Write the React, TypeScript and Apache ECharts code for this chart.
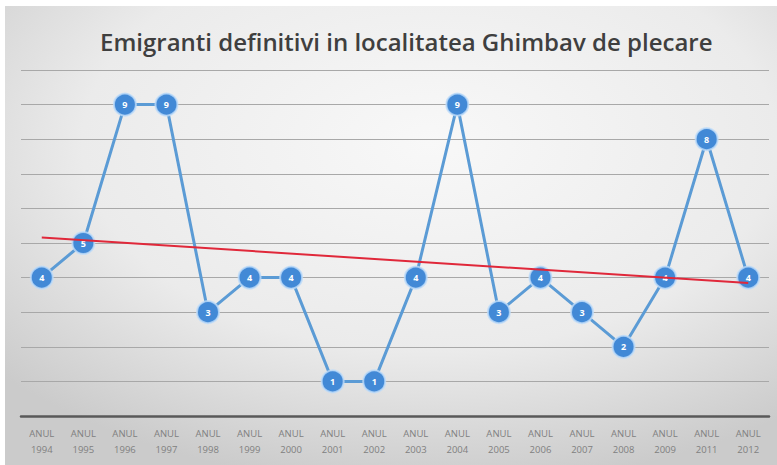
import React, { useEffect, useRef } from "react";
import * as echarts from "echarts";

const categories = [
  "ANUL\n1994", "ANUL\n1995", "ANUL\n1996", "ANUL\n1997", "ANUL\n1998", "ANUL\n1999",
  "ANUL\n2000", "ANUL\n2001", "ANUL\n2002", "ANUL\n2003", "ANUL\n2004", "ANUL\n2005",
  "ANUL\n2006", "ANUL\n2007", "ANUL\n2008", "ANUL\n2009", "ANUL\n2011", "ANUL\n2012",
];
const emigrants = [4, 5, 9, 9, 3, 4, 4, 1, 1, 4, 9, 3, 4, 3, 2, 4, 8, 4];
const titleText = "Emigranti definitivi in localitatea Ghimbav de plecare";

function linearTrend(values: number[]): (number | null)[] {
  const n = values.length;
  const mx = (n - 1) / 2;
  const my = values.reduce((a, b) => a + b, 0) / n;
  let sxy = 0;
  let sxx = 0;
  values.forEach((v, i) => {
    sxy += (i - mx) * (v - my);
    sxx += (i - mx) * (i - mx);
  });
  const slope = sxy / sxx;
  const b = my - slope * mx;
  return values.map((_, i) => (i === 0 || i === n - 1 ? b + slope * i : null));
}

export default function App() {
  const ref = useRef<HTMLDivElement>(null);
  useEffect(() => {
    document.body.style.margin = "0";
    const chart = echarts.init(ref.current!, undefined, { renderer: "svg" });
    chart.setOption({
      animation: false,
      backgroundColor: "#ffffff",
      graphic: [
        {
          type: "rect",
          z: -10,
          silent: true,
          shape: { x: 5, y: 6, width: 772, height: 459 },
          style: {
            fill: {
              type: "radial",
              x: 0.55,
              y: 0.3,
              r: 0.75,
              colorStops: [
                { offset: 0, color: "#f8f8f8" },
                { offset: 0.6, color: "#ebebeb" },
                { offset: 1, color: "#cbcbcb" },
              ],
            },
          },
        },
      ],
      title: {
        text: titleText,
        left: 95,
        top: 24,
        textStyle: {
          fontFamily: "Open Sans",
          fontSize: 24,
          fontWeight: 600,
          color: "#3f3f3f",
        },
      },
      grid: { left: 21, right: 8, top: 70, bottom: 49 },
      xAxis: {
        type: "category",
        data: categories,
        boundaryGap: true,
        axisLine: { lineStyle: { color: "#595959", width: 2.5 } },
        axisTick: { show: false },
        axisLabel: {
          color: "#808080",
          fontSize: 9.5,
          lineHeight: 16,
          margin: 9,
          interval: 0,
          fontFamily: "Open Sans",
        },
      },
      yAxis: {
        type: "value",
        min: 0,
        max: 10,
        interval: 1,
        axisLabel: { show: false },
        axisLine: { show: false },
        axisTick: { show: false },
        splitLine: { lineStyle: { color: "#a8a8a8", width: 1.2 } },
      },
      series: [
        {
          type: "line",
          data: emigrants,
          z: 3,
          lineStyle: { color: "#5b9bd5", width: 3 },
          symbol: "circle",
          symbolSize: 22,
          itemStyle: {
            color: "#4289d6",
            borderColor: "rgba(190,220,250,0.8)",
            borderWidth: 2,
          },
          label: {
            show: true,
            position: "inside",
            color: "#ffffff",
            fontSize: 9,
            fontWeight: "bold",
            fontFamily: "Open Sans",
          },
        },
        {
          type: "line",
          data: linearTrend(emigrants),
          connectNulls: true,
          z: 4,
          symbol: "none",
          lineStyle: { color: "#e0283a", width: 2 },
        },
      ],
    });
    return () => chart.dispose();
  }, []);
  return <div ref={ref} style={{ width: 777, height: 465 }} />;
}
